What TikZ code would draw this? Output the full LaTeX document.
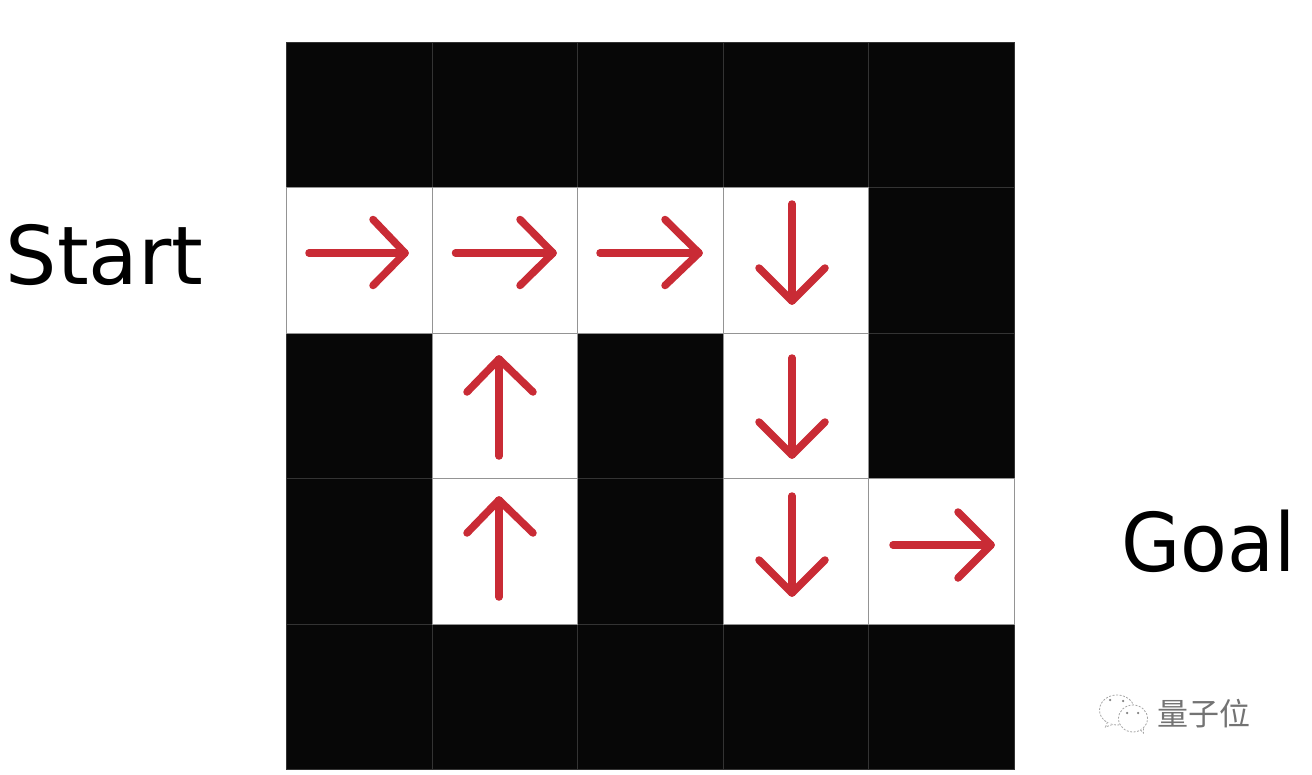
\documentclass[tikz,border=0pt]{standalone}
\usepackage{xcolor}
\usepackage{fontspec}
\setmainfont{DejaVu Sans}
\newfontfamily\cjkfont{Noto Sans CJK SC}
\definecolor{wallblack}{HTML}{070707}
\definecolor{arrowred}{HTML}{C92B35}
\tikzset{
  wall/.style={draw=black!80!white,line width=0.8pt,fill=wallblack,minimum size=145.6pt,inner sep=0pt},
  path/.style={draw=black!42,line width=1pt,fill=white,minimum size=145.6pt,inner sep=0pt},
  move/.style={draw=arrowred,line width=7.5pt,line cap=round,line join=round},
  label/.style={font=\fontsize{81}{81}\selectfont,inner sep=0pt,anchor=base west},
  bubble/.style={draw=black!35,line width=0.8pt,dash pattern=on 2pt off 1.5pt,fill=white},
  eye/.style={fill=black!50,circle,minimum size=2.5pt,inner sep=0pt}
}
\begin{document}
\begin{tikzpicture}[x=1pt,y=1pt]
  \useasboundingbox (0,0) rectangle (1312,-774);
  % walls
  \node [wall] (a1) at (359.2,-115) {};
  \node [wall] (a2) at (504.8,-115) {};
  \node [wall] (a3) at (650.4,-115) {};
  \node [wall] (a4) at (796,-115) {};
  \node [wall] (a5) at (941.2,-115) {};
  \node [wall] (b5) at (941.2,-260.6) {};
  \node [wall] (c1) at (359.2,-406.2) {};
  \node [wall] (c3) at (650.4,-406.2) {};
  \node [wall] (c5) at (941.2,-406.2) {};
  \node [wall] (d1) at (359.2,-551.2) {};
  \node [wall] (d3) at (650.4,-551.2) {};
  \node [wall] (e1) at (359.2,-696.8) {};
  \node [wall] (e2) at (504.8,-696.8) {};
  \node [wall] (e3) at (650.4,-696.8) {};
  \node [wall] (e4) at (796,-696.8) {};
  \node [wall] (e5) at (941.2,-696.8) {};
  % free cells
  \node [path] (b1) at (359.2,-260.6) {};
  \node [path] (b2) at (504.8,-260.6) {};
  \node [path] (b3) at (650.4,-260.6) {};
  \node [path] (b4) at (796,-260.6) {};
  \node [path] (c2) at (504.8,-406.2) {};
  \node [path] (c4) at (796,-406.2) {};
  \node [path] (d2) at (504.8,-551.2) {};
  \node [path] (d4) at (796,-551.2) {};
  \node [path] (d5) at (941.2,-551.2) {};
  % moves
  \draw [move] (309,-253) -- (405,-253);
  \draw [move] (373,-219.5) -- (405,-253) -- (373,-285.5);
  \draw [move] (455.5,-253) -- (553,-253);
  \draw [move] (520,-219.5) -- (553,-253) -- (520,-285.5);
  \draw [move] (600,-253) -- (699,-253);
  \draw [move] (665,-219.5) -- (699,-253) -- (665,-285.5);
  \draw [move] (792,-204) -- (792,-301);
  \draw [move] (759,-268) -- (792,-301) -- (825,-268);
  \draw [move] (792,-358) -- (792,-455);
  \draw [move] (759,-422) -- (792,-455) -- (825,-422);
  \draw [move] (792,-496) -- (792,-593);
  \draw [move] (759,-560) -- (792,-593) -- (825,-560);
  \draw [move] (499,-456) -- (499,-359);
  \draw [move] (467,-392) -- (499,-359) -- (533,-392);
  \draw [move] (499,-597) -- (499,-500);
  \draw [move] (467,-533) -- (499,-500) -- (533,-533);
  \draw [move] (893,-545) -- (991,-545);
  \draw [move] (958,-512) -- (991,-545) -- (958,-578);
  % labels
  \node [label] (start) at (5.5,-284.5) {Start};
  \node [label,xscale=0.945] (goal) at (1121,-571) {Goal};
  % watermark
  \draw [bubble] (1117,-710) ellipse (17.5 and 15);
  \draw [bubble] (1107.5,-722) -- (1105.5,-727) -- (1112.5,-724.5);
  \draw [bubble] (1133,-718.5) ellipse (14.5 and 13.5);
  \draw [bubble] (1140.5,-730) -- (1143.5,-733) -- (1143.5,-728);
  \node [eye] (eyea) at (1110,-700) {};
  \node [eye] (eyeb) at (1123,-701) {};
  \node [eye] (eyec) at (1127,-713) {};
  \node [eye] (eyed) at (1138,-713) {};
  \node [font=\cjkfont\fontsize{31}{31}\selectfont,text=black!55,inner sep=0pt] (mark) at (1204,-714) {量子位};
\end{tikzpicture}
\end{document}
